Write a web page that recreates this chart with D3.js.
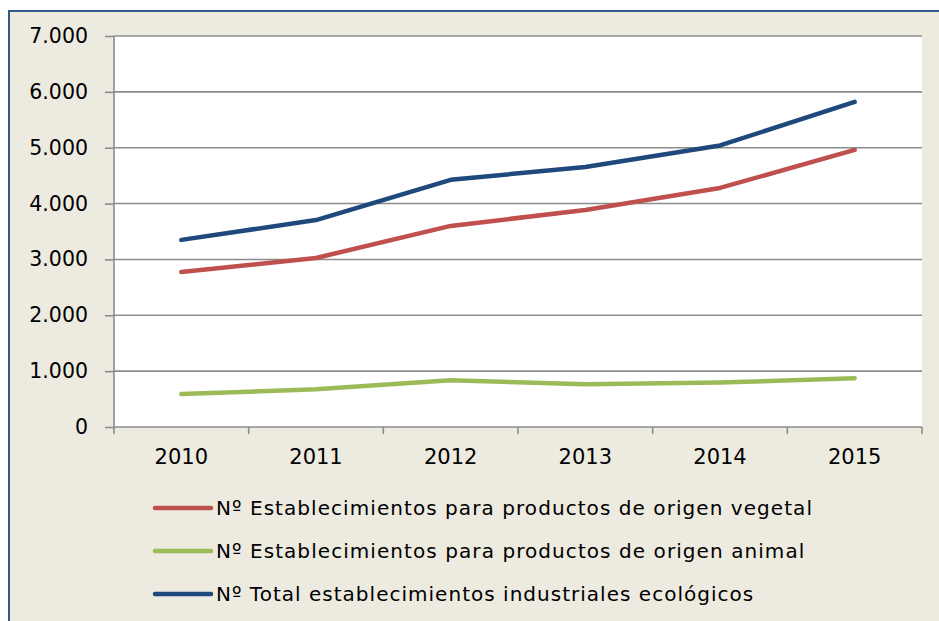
<!DOCTYPE html>
<html>
<head>
<meta charset="utf-8">
<script src="https://cdn.jsdelivr.net/npm/d3@7"></script>
<style>
  body { margin: 0; background: #fff; }
  svg text { font-family: "DejaVu Sans", Verdana, sans-serif; fill: #000; }
</style>
</head>
<body>
<script>
// Data
var years    = ["2010", "2011", "2012", "2013", "2014", "2015"];
var vegetal  = [2775, 3025, 3600, 3885, 4280, 4960];
var animal   = [590, 675, 837, 766, 795, 873];
var total    = [3350, 3705, 4425, 4655, 5040, 5820];
var y_ticks  = [0, 1000, 2000, 3000, 4000, 5000, 6000, 7000];
var series_names  = ["Nº Establecimientos para productos de origen vegetal",
                     "Nº Establecimientos para productos de origen animal",
                     "Nº Total establecimientos industriales ecológicos"];
var series_colors = ["#C0504D", "#9BBB59", "#1F497D"];

var width  = 939;
var height = 621;
var plot = { left: 114, right: 922, top: 36, bottom: 427 };

var svg = d3.select("body").append("svg")
    .attr("width", width)
    .attr("height", height);

// Chart frame
svg.append("rect")
    .attr("x", 9).attr("y", 11)
    .attr("width", width + 10).attr("height", height + 10)
    .attr("fill", "#EDEAE0")
    .attr("stroke", "#2E5A8E")
    .attr("stroke-width", 2);

svg.append("rect")
    .attr("x", plot.left).attr("y", plot.top)
    .attr("width", plot.right - plot.left)
    .attr("height", plot.bottom - plot.top)
    .attr("fill", "#fff");

var x = d3.scaleBand().domain(years).range([plot.left, plot.right]);
var y = d3.scaleLinear().domain([0, 7000]).range([plot.bottom, plot.top]);

var fmt = function (d) { return d3.format(",")(d).replace(/,/g, "."); };

// Gridlines
svg.append("g").selectAll("line")
    .data(y_ticks.slice(1))
    .enter().append("line")
    .attr("x1", plot.left).attr("x2", plot.right)
    .attr("y1", function (d) { return y(d); })
    .attr("y2", function (d) { return y(d); })
    .attr("stroke", "#8C8C8C")
    .attr("stroke-width", 1.6);

// Y axis
var y_axis = svg.append("g")
    .attr("transform", "translate(" + plot.left + ",0)")
    .call(d3.axisLeft(y).tickValues(y_ticks).tickFormat(fmt).tickSize(9).tickPadding(17));
y_axis.selectAll("line, path").attr("stroke", "#8C8C8C").attr("stroke-width", 1.6);
y_axis.select(".domain").attr("d", "M0," + plot.bottom + "V" + plot.top);
y_axis.selectAll("text").style("font-size", "20.5px").attr("font-family", null);

// X axis
var x_axis = svg.append("g")
    .attr("transform", "translate(0," + plot.bottom + ")")
    .call(d3.axisBottom(x).tickSize(0).tickPadding(22));
x_axis.select(".domain").attr("stroke", "#8C8C8C").attr("stroke-width", 1.6)
    .attr("d", "M" + plot.left + ",0H" + plot.right);
x_axis.selectAll("text").style("font-size", "21px").attr("font-family", null);

var bounds = years.map(function (d) { return x(d); }).concat([plot.right]);
svg.append("g").selectAll("line")
    .data(bounds)
    .enter().append("line")
    .attr("x1", function (d) { return d; }).attr("x2", function (d) { return d; })
    .attr("y1", plot.bottom).attr("y2", plot.bottom + 7)
    .attr("stroke", "#8C8C8C")
    .attr("stroke-width", 1.6);

// Series lines
var line = d3.line()
    .x(function (d, i) { return x(years[i]) + x.bandwidth() / 2; })
    .y(function (d) { return y(d); });

[vegetal, animal, total].forEach(function (values, i) {
    svg.append("path")
        .datum(values)
        .attr("d", line)
        .attr("fill", "none")
        .attr("stroke", series_colors[i])
        .attr("stroke-width", 4.5)
        .attr("stroke-linecap", "round")
        .attr("stroke-linejoin", "round");
});

// Legend
var legend = svg.append("g").selectAll("g")
    .data(series_names)
    .enter().append("g")
    .attr("transform", function (d, i) { return "translate(155," + (508 + i * 43) + ")"; });

legend.append("line")
    .attr("x1", 0).attr("x2", 56)
    .attr("stroke", function (d, i) { return series_colors[i]; })
    .attr("stroke-width", 4.5)
    .attr("stroke-linecap", "round");

// the original legend text is set wider than the font, stretch the spacing a bit
legend.append("text")
    .attr("x", 61)
    .attr("dy", "0.36em")
    .style("font-size", "20px")
    .text(function (d) { return d; })
    .each(function () {
        var len = this.getComputedTextLength();
        d3.select(this).attr("textLength", len * 1.1).attr("lengthAdjust", "spacing");
    });
</script>
</body>
</html>
